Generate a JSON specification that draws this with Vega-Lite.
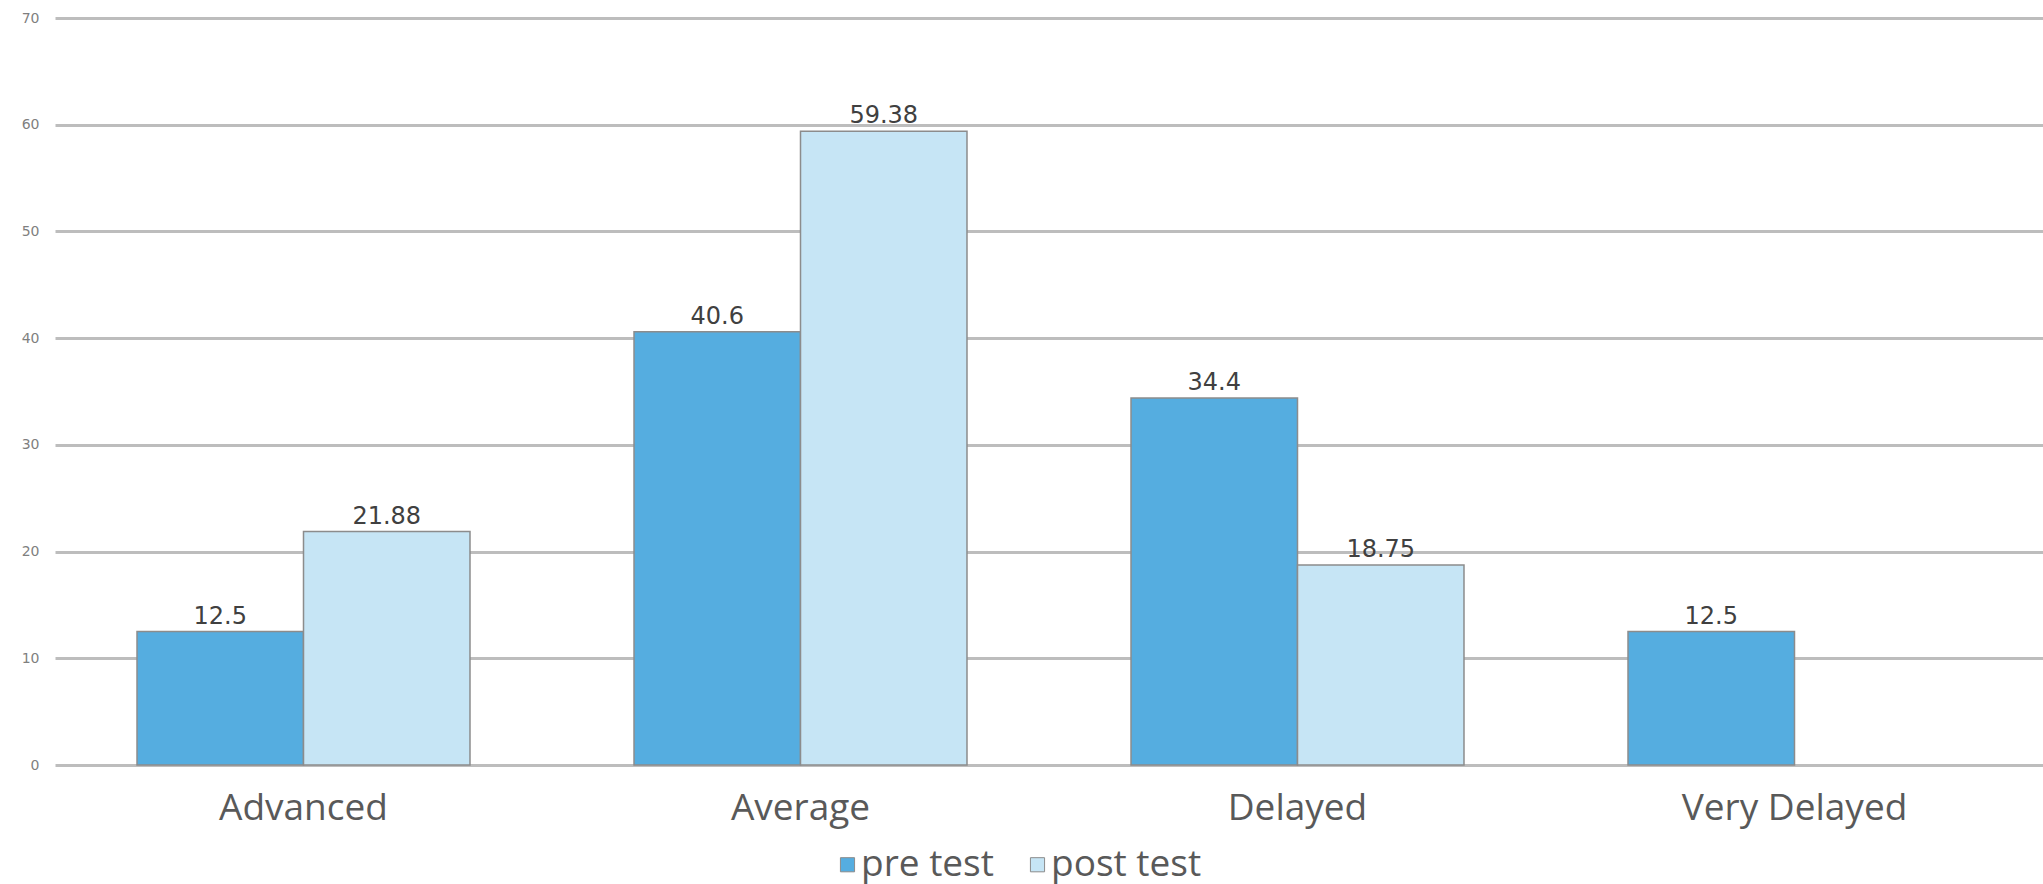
{
  "$schema": "https://vega.github.io/schema/vega-lite/v6.json",
  "autosize": {"type": "none"},
  "width": 1988,
  "height": 747,
  "padding": {"left": 55, "top": 18, "right": 0, "bottom": 119},
  "background": "white",
  "title": {
    "text": "Assessment",
    "fontSize": 96,
    "font": "Open Sans",
    "fontWeight": "bold",
    "color": "#77933C",
    "baseline": "bottom",
    "anchor": "middle",
    "offset": -60
  },
  "data": {
    "values": [
      {"category": "Advanced", "series": "pre test", "value": 12.5},
      {"category": "Advanced", "series": "post test", "value": 21.88},
      {"category": "Average", "series": "pre test", "value": 40.6},
      {"category": "Average", "series": "post test", "value": 59.38},
      {"category": "Delayed", "series": "pre test", "value": 34.4},
      {"category": "Delayed", "series": "post test", "value": 18.75},
      {"category": "Very Delayed", "series": "pre test", "value": 12.5}
    ]
  },
  "encoding": {
    "x": {
      "field": "category",
      "type": "nominal",
      "sort": ["Advanced", "Average", "Delayed", "Very Delayed"],
      "scale": {"paddingInner": 0.33, "paddingOuter": 0.165},
      "axis": {
        "title": null,
        "labelAngle": 0,
        "domain": false,
        "ticks": false,
        "labelFont": "Open Sans",
        "labelFontSize": 37,
        "labelLimit": 0,
        "labelColor": "#595959",
        "labelPadding": 25
      }
    },
    "xOffset": {"field": "series", "type": "nominal", "sort": ["pre test", "post test"]},
    "y": {
      "field": "value",
      "type": "quantitative",
      "scale": {"domain": [0, 70], "nice": false},
      "axis": {
        "title": null,
        "values": [0, 10, 20, 30, 40, 50, 60, 70],
        "domain": false,
        "ticks": false,
        "labelFont": "DejaVu Sans",
        "labelFontSize": 14,
        "labelColor": "#7f7f7f",
        "labelPadding": 16,
        "grid": true,
        "gridColor": "#BDBDBD",
        "gridWidth": 3
      }
    }
  },
  "layer": [
    {
      "mark": {"type": "bar", "stroke": "#8C8C8C", "strokeWidth": 1.5},
      "encoding": {
        "color": {
          "field": "series",
          "type": "nominal",
          "sort": ["pre test", "post test"],
          "scale": {"domain": ["pre test", "post test"], "range": ["#55ADE0", "#C6E5F5"]},
          "legend": {
            "title": null,
            "orient": "none",
            "legendX": 774,
            "legendY": 828,
            "direction": "horizontal",
            "symbolType": "square",
            "symbolSize": 200,
            "symbolStrokeColor": "#8C8C8C",
            "symbolStrokeWidth": 1,
            "labelFont": "Open Sans",
            "labelFontSize": 37,
            "labelLimit": 0,
            "labelColor": "#595959",
            "labelOffset": -5,
            "columnPadding": 25
          }
        }
      }
    },
    {
      "mark": {"type": "text", "baseline": "bottom", "dy": -3, "font": "DejaVu Sans", "fontSize": 24, "color": "#404040"},
      "encoding": {
        "text": {"field": "value", "type": "quantitative", "format": "~g"}
      }
    }
  ],
  "config": {
    "view": {"stroke": null}
  }
}
